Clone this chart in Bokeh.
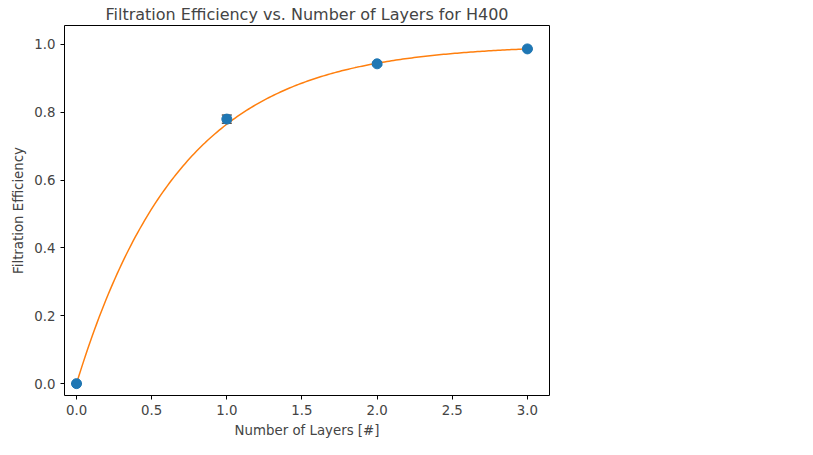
from bokeh.plotting import figure
from bokeh.models import Range1d, Legend, LegendItem, Whisker, ColumnDataSource, NumeralTickFormatter
from bokeh.embed import file_html
from bokeh.resources import INLINE
import numpy as np

layers = [0, 1, 2, 3]
efficiency = [0.0, 0.780, 0.943, 0.987]
err = [0.0, 0.012, 0.004, 0.002]
k_fit = 1.4485
r2 = 1.0

p = figure(frame_width=485, frame_height=370, output_backend="svg", toolbar_location=None,
           title="Filtration Efficiency vs. Number of Layers for H400",
           min_border_left=64, min_border_right=256, min_border_top=19, min_border_bottom=50)
p.x_range = Range1d(-0.08, 3.147)
p.y_range = Range1d(-0.035, 1.056)
p.xgrid.grid_line_color = None
p.ygrid.grid_line_color = None
p.outline_line_color = "black"
p.title.align = "center"
p.title.text_font = "DejaVu Sans"
p.title.text_font_size = "12pt"
p.title.text_font_style = "normal"
p.title.standoff = 4
for ax in (p.xaxis, p.yaxis):
    ax.axis_label_text_font = "DejaVu Sans"
    ax.axis_label_text_font_style = "normal"
    ax.axis_label_text_font_size = "10pt"
    ax.major_label_text_font = "DejaVu Sans"
    ax.major_label_text_font_size = "10pt"
    ax.minor_tick_line_color = None
    ax.major_tick_in = 0
    ax.major_tick_out = 4
    ax.axis_line_color = None
    ax.formatter = NumeralTickFormatter(format="0.0")
p.xaxis.axis_label = "Number of Layers [#]"
p.yaxis.axis_label = "Filtration Efficiency"
p.xaxis.ticker = [0, 0.5, 1, 1.5, 2, 2.5, 3]
p.yaxis.ticker = [0, 0.2, 0.4, 0.6, 0.8, 1.0]

n = np.linspace(0, 3, 200)
p.line(n, 1 - np.exp(-k_fit * n), color="#ff7f0e", line_width=1.5)

src = ColumnDataSource(dict(x=layers, y=efficiency,
                            lo=[e - d for e, d in zip(efficiency, err)],
                            hi=[e + d for e, d in zip(efficiency, err)]))
p.add_layout(Whisker(source=src, base="x", lower="lo", upper="hi",
                     line_color="#1f77b4", line_width=1.5))
p.scatter("x", "y", source=src, size=10, color="#1f77b4")

r_a = p.scatter([0], [0], alpha=0)
r_b = p.scatter([0], [0], alpha=0)
legend = Legend(items=[LegendItem(label="Model: 1-(e^-%.4f*n)" % k_fit, renderers=[r_a]),
                       LegendItem(label="R^2: %.4f" % r2, renderers=[r_b])],
                location=(518, 312), margin=0, padding=6, spacing=2,
                label_text_font="DejaVu Sans", label_text_font_size="10pt",
                glyph_width=28, label_standoff=8,
                border_line_color="#cccccc", border_line_width=1)
p.add_layout(legend)

open("out.html", "w").write(file_html(p, INLINE))
